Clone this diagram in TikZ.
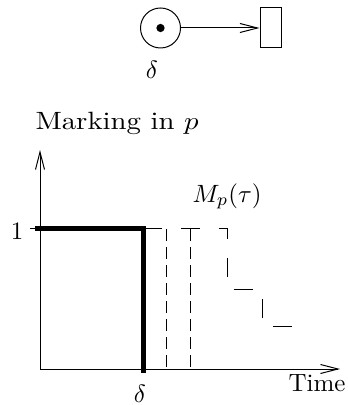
\documentclass[tikz,border=0pt]{standalone}
\usetikzlibrary{arrows.meta}
\begin{document}
\begin{tikzpicture}[x=0.4pt,y=-0.4pt, line width=0.4pt,
  barb/.style={-{Straight Barb[length=7pt,width=3.6pt]}},
  thickl/.style={line width=2pt, line join=miter},
  longdash/.style={dash pattern=on 7.6pt off 7.6pt},
  shortdash/.style={dash pattern=on 4.6pt off 2.6pt},
  lbl/.style={inner sep=0pt}]
\useasboundingbox (0,0) rectangle (347,405);
% Petri net
\node[draw,circle,minimum size=16pt,inner sep=0pt] (place) at (160.5,28) {};
\fill (place.center) circle[radius=1.65pt];
\node[draw,minimum width=8.4pt,minimum height=16pt,inner sep=0pt] (trans) at (270.5,28) {};
\draw[barb] (place) -- (trans);
\node[lbl,anchor=base] (d1) at (152,79) {$\delta$};
% plot
\coordinate (O) at (40,369);
\coordinate (ytop) at (40,150);
\coordinate (xend) at (340,369);
\draw[barb] (O) -- (ytop);
\draw[barb] (O) -- (xend);
\coordinate (tickL) at (30,228);
\coordinate (oneY) at (40,228);
\draw (tickL) -- (oneY);
\coordinate (thA) at (35,228);
\coordinate (thB) at (143,228);
\coordinate (thC) at (143,373);
\draw[thickl] (thA) -- (thB) -- (thC);
\coordinate (s1) at (227,228);
\coordinate (s2) at (227,289);
\coordinate (s3) at (262,289);
\coordinate (s4) at (262,326);
\coordinate (s5) at (296,326);
\draw[longdash] (thB) -- (s1) -- (s2) -- (s3) -- (s4) -- (s5);
\coordinate (v1a) at (166,229);
\coordinate (v1b) at (166,372);
\coordinate (v2a) at (190,229);
\coordinate (v2b) at (190,372);
\draw[shortdash] (v1a) -- (v1b);
\draw[shortdash] (v2a) -- (v2b);
\node[lbl,anchor=base west] (ylab) at (35,130) {\scalebox{1.15}[1]{Marking in $p$}};
\node[lbl,anchor=base west] (mp) at (192,202) {$M_p(\tau)$};
\node[lbl,anchor=base] (one) at (17,239) {1};
\node[lbl,anchor=base west] (xlab) at (288,391) {Time};
\node[lbl,anchor=base] (d2) at (140,402) {$\delta$};
\end{tikzpicture}
\end{document}
